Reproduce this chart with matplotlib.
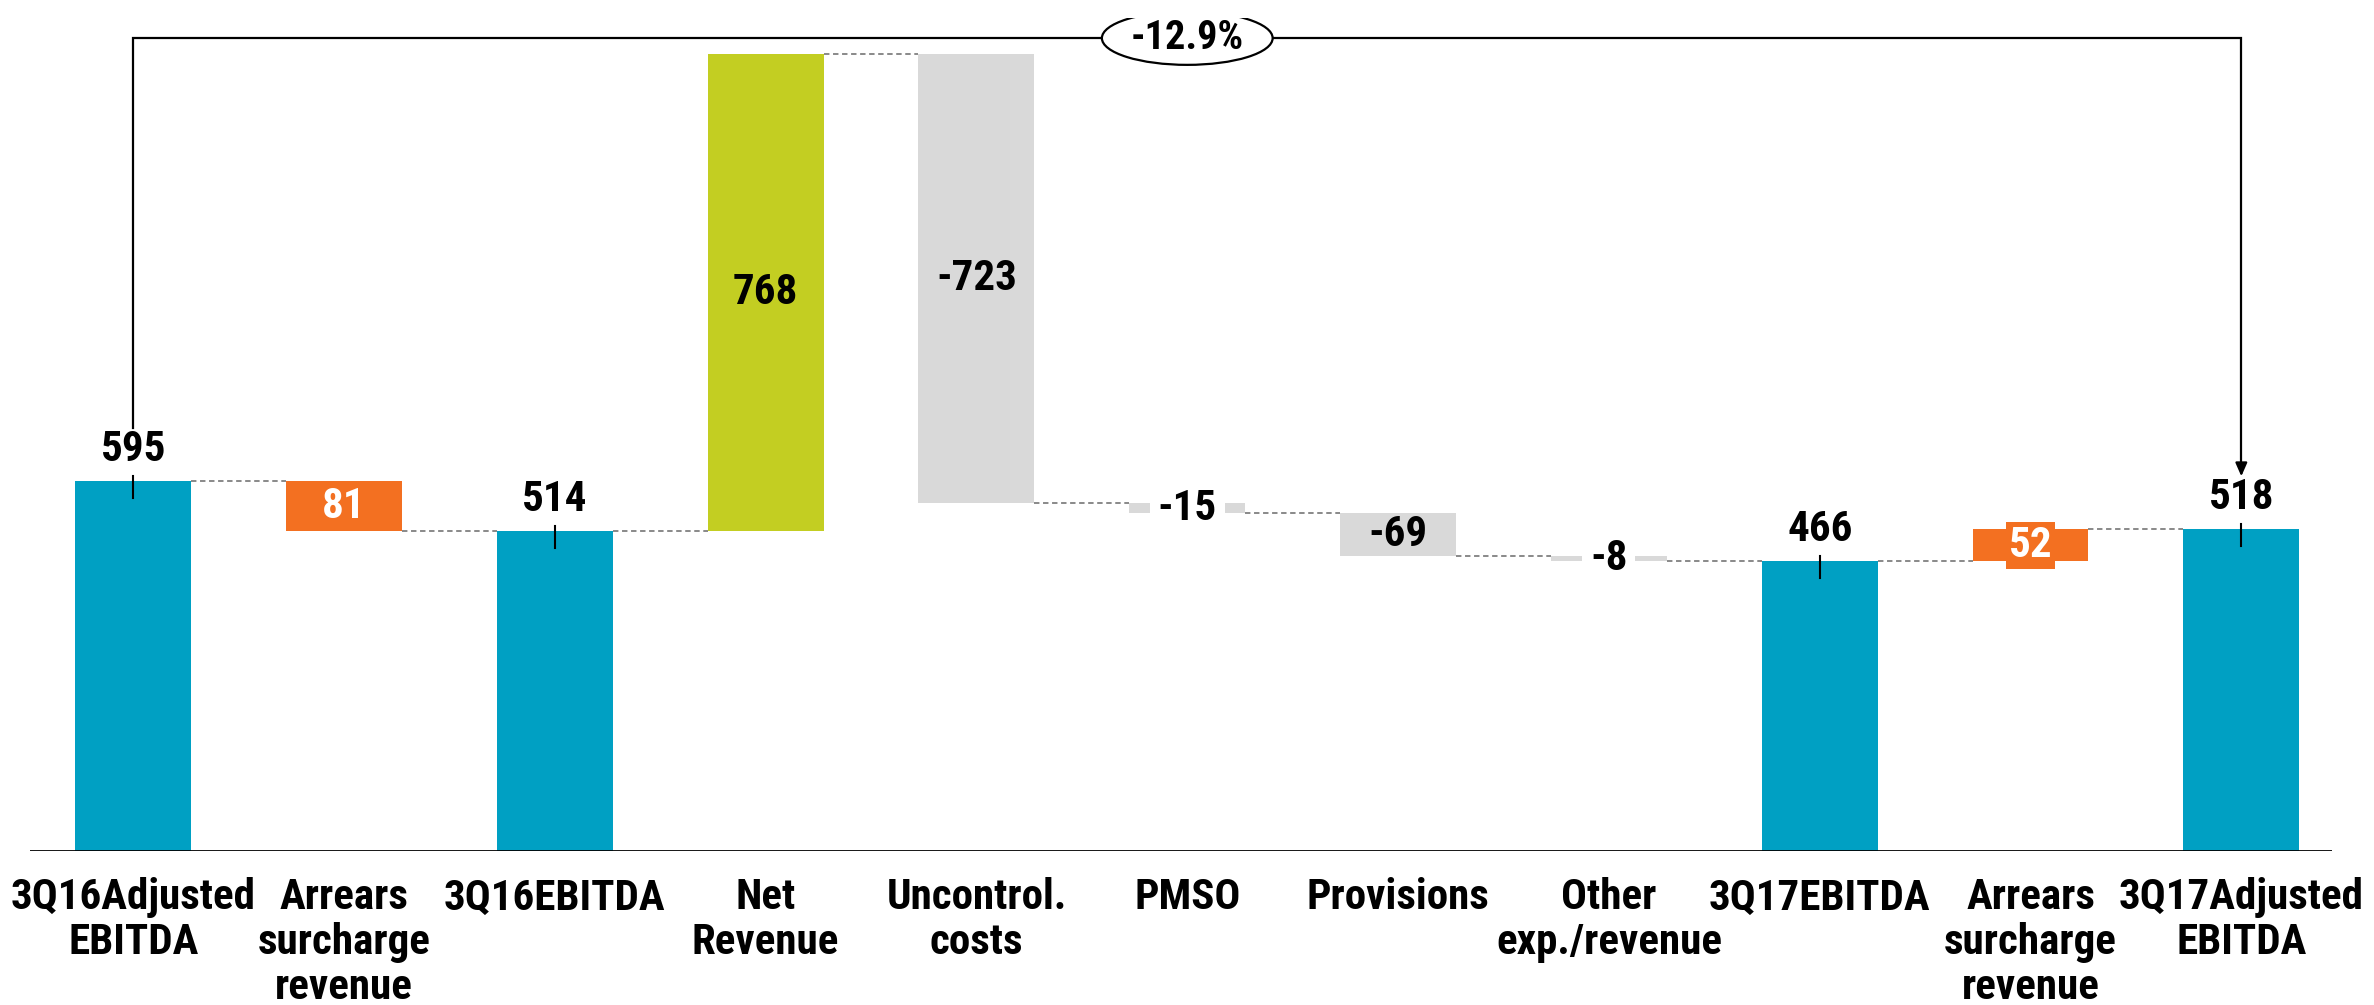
import matplotlib
matplotlib.use("Agg")
import matplotlib.pyplot as plt
from matplotlib import font_manager
from matplotlib.patches import Ellipse

# pick a narrow sans if one is around, else condensed DejaVu
available = {f.name for f in font_manager.fontManager.ttflist}
stretch = 'normal'
family = None
for name in ['Liberation Sans Narrow', 'DejaVu Sans Condensed', 'Roboto Condensed',
             'Noto Sans Condensed', 'Open Sans Condensed']:
    if name in available:
        family = name
        break
if family is None:
    family = 'DejaVu Sans'
    stretch = 'condensed'
plt.rcParams['font.family'] = [family, 'DejaVu Sans']
plt.rcParams['font.stretch'] = stretch

# waterfall data (R$ million)
categories = ['3Q16Adjusted\nEBITDA', 'Arrears\nsurcharge\nrevenue', '3Q16EBITDA', 'Net\nRevenue',
              'Uncontrol.\ncosts', 'PMSO', 'Provisions', 'Other\nexp./revenue', '3Q17EBITDA',
              'Arrears\nsurcharge\nrevenue', '3Q17Adjusted\nEBITDA']
values = [595, -81, 514, 768, -723, -15, -69, -8, 466, 52, 518]
is_total = [True, False, True, False, False, False, False, False, True, False, True]
labels = ['595', '81', '514', '768', '-723', '-15', '-69', '-8', '466', '52', '518']
change_pct = '-12.9%'

TEAL = '#00A0C3'
ORANGE = '#F37021'
LIME = '#C3CE22'
GRAY = '#D9D9D9'
colors = [TEAL, ORANGE, TEAL, LIME, GRAY, GRAY, GRAY, GRAY, TEAL, ORANGE, TEAL]

fig = plt.figure(figsize=(23.74, 10.05), dpi=100)
ax = fig.add_axes([0.0126, 0.1532, 0.9697, 0.8293])

width = 0.55
level = 0
bottoms, tops = [], []
for i, v in enumerate(values):
    if is_total[i]:
        lo, hi = 0, v
        level = v
    else:
        lo, hi = sorted([level, level + v])
        level = level + v
    bottoms.append(lo)
    tops.append(hi)
    ax.bar(i, hi - lo, bottom=lo, width=width, color=colors[i], zorder=2)

# dashed connectors between bars
level = 0
ends = []
for i, v in enumerate(values):
    level = v if is_total[i] else level + v
    ends.append(level)
ends[7] = values[8]
for i in range(len(values) - 1):
    y = ends[i]
    if i == 3:
        y = tops[3]
    ax.plot([i + width / 2, i + 1 - width / 2], [y, y], color='#808080', lw=1.3,
            ls=(0, (3, 2)), zorder=1)

# value labels; short bars get a box behind the number
fs = 31
for i, v in enumerate(values):
    mid = (bottoms[i] + tops[i]) / 2
    short = tops[i] - bottoms[i] < 60
    if is_total[i]:
        ax.plot([i, i], [v + 8, v - 27], color='black', lw=1.5, zorder=3)
        ax.text(i, v + 18, labels[i], ha='center', va='bottom', fontsize=fs,
                fontweight='bold', zorder=4)
    elif colors[i] == ORANGE:
        box = dict(boxstyle='square,pad=0.07', fc=ORANGE, ec='none') if short else None
        ax.text(i, mid, labels[i], ha='center', va='center', fontsize=fs, color='white',
                fontweight='bold', zorder=4, bbox=box)
    elif short:
        ax.text(i, mid, labels[i], ha='center', va='center', fontsize=fs,
                fontweight='bold', zorder=4,
                bbox=dict(boxstyle='square,pad=0.18', fc='white', ec='none'))
    else:
        ax.text(i, mid, labels[i], ha='center', va='center', fontsize=fs,
                fontweight='bold', zorder=4)

# change bracket from first to last bar
ybr = 1307
ax.plot([0, 0, 10, 10], [680, ybr, ybr, 612], color='black', lw=1.6, zorder=3,
        solid_joinstyle='miter')
ax.annotate('', xy=(10, 598), xytext=(10, 625),
            arrowprops=dict(arrowstyle='-|>,head_length=0.8,head_width=0.35',
                            color='black', lw=1.6), zorder=3)
ax.add_patch(Ellipse((5, ybr), 0.81, 86, fc='white', ec='black', lw=1.6, zorder=4))
ax.text(5, ybr, change_pct, ha='center', va='center', fontsize=29, fontweight='bold', zorder=5)

ax.axhline(0, color='black', lw=2, zorder=3)
ax.set_xlim(-0.49, 10.43)
ax.set_ylim(0, 1340)
ax.set_xticks(range(len(categories)))
ax.set_xticklabels(categories, fontsize=fs, fontweight='bold', linespacing=1.12)
ax.tick_params(axis='x', length=0, pad=19)
ax.set_yticks([])
for s in ax.spines.values():
    s.set_visible(False)

fig.savefig('out.png', dpi=100)
